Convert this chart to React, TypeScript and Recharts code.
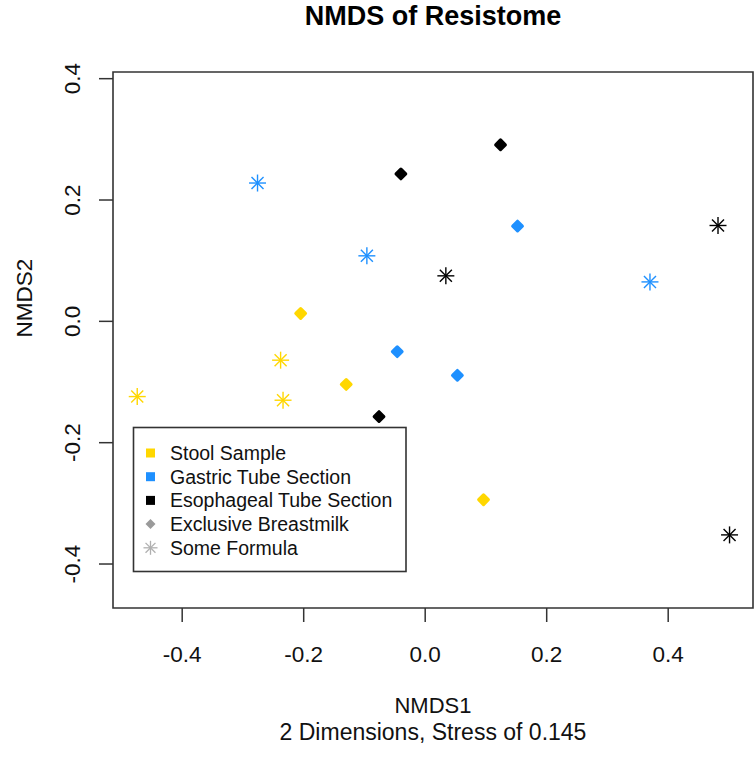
import React from "react";
import {
  ScatterChart,
  Scatter,
  XAxis,
  YAxis,
  ReferenceArea,
  Customized,
} from "recharts";

// NMDS scores, split by sample site and feeding group
const stoolBreastmilk = [
  { x: -0.205, y: 0.013 },
  { x: -0.13, y: -0.104 },
  { x: 0.096, y: -0.294 },
];
const stoolFormula = [
  { x: -0.238, y: -0.064 },
  { x: -0.234, y: -0.13 },
  { x: -0.474, y: -0.124 },
];
const gastricBreastmilk = [
  { x: -0.046, y: -0.05 },
  { x: 0.053, y: -0.089 },
  { x: 0.152, y: 0.157 },
];
const gastricFormula = [
  { x: -0.276, y: 0.228 },
  { x: -0.096, y: 0.108 },
  { x: 0.37, y: 0.065 },
];
const esophagealBreastmilk = [
  { x: -0.04, y: 0.243 },
  { x: 0.124, y: 0.291 },
  { x: -0.076, y: -0.157 },
];
const esophagealFormula = [
  { x: 0.034, y: 0.075 },
  { x: 0.482, y: 0.158 },
  { x: 0.501, y: -0.352 },
];

const xTicks = [-0.4, -0.2, 0.0, 0.2, 0.4];
const yTicks = [-0.4, -0.2, 0.0, 0.2, 0.4];
const xDomain = [-0.5139, 0.5396];
const yDomain = [-0.4725, 0.411];

const legendLabels = [
  "Stool Sample",
  "Gastric Tube Section",
  "Esophageal Tube Section",
  "Exclusive Breastmilk",
  "Some Formula",
];

const GOLD = "#FFD700";
const BLUE = "#1E90FF";
const BLACK = "#000000";
const FONT = "'Liberation Sans', Arial, sans-serif";

function diamondShape(color: string) {
  return (props: any) => {
    const { cx, cy } = props;
    const r = 4.8;
    return (
      <polygon
        points={`${cx},${cy - r} ${cx + r},${cy} ${cx},${cy + r} ${cx - r},${cy}`}
        fill={color}
        stroke={color}
        strokeWidth={3.2}
        strokeLinejoin="round"
      />
    );
  };
}

function Asterisk({ cx, cy, color, r, w }: any) {
  const d = r * 0.7071;
  return (
    <g stroke={color} strokeWidth={w}>
      <line x1={cx - r} y1={cy} x2={cx + r} y2={cy} />
      <line x1={cx} y1={cy - r} x2={cx} y2={cy + r} />
      <line x1={cx - d} y1={cy - d} x2={cx + d} y2={cy + d} />
      <line x1={cx - d} y1={cy + d} x2={cx + d} y2={cy - d} />
    </g>
  );
}

function starShape(color: string) {
  return (props: any) => (
    <Asterisk cx={props.cx} cy={props.cy} color={color} r={8.5} w={1.4} />
  );
}

const XTick = ({ x, y, payload }: any) => (
  <text x={x} y={y + 40} textAnchor="middle" fontSize={22.5} fontFamily={FONT} fill="#111">
    {Number(payload.value).toFixed(1)}
  </text>
);

const YTick = ({ x, y, payload }: any) => (
  <text
    x={x - 19}
    y={y}
    transform={`rotate(-90, ${x - 19}, ${y})`}
    textAnchor="middle"
    fontSize={22.5}
    fontFamily={FONT}
    fill="#111"
  >
    {Number(payload.value).toFixed(1)}
  </text>
);

function Overlay() {
  const legendColors = [GOLD, BLUE, BLACK];
  const lx = 133.5;
  const ly = 427.5;
  const rowY = (i: number) => 453 + i * 23.7;
  return (
    <g fontFamily={FONT}>
      <text x={433} y={25} textAnchor="middle" fontSize={27} fontWeight="bold" fill="#000">
        NMDS of Resistome
      </text>
      <text x={433} y={713} textAnchor="middle" fontSize={22} fill="#111">
        NMDS1
      </text>
      <text x={433} y={740} textAnchor="middle" fontSize={23} fill="#111">
        2 Dimensions, Stress of 0.145
      </text>
      <text
        x={32}
        y={298}
        transform="rotate(-90, 32, 298)"
        textAnchor="middle"
        fontSize={22.5}
        fill="#111"
      >
        NMDS2
      </text>

      <rect x={lx} y={ly} width={272.5} height={144} fill="#fff" stroke="#333" strokeWidth={1.6} />
      {legendLabels.map((label, i) => {
        const cy = rowY(i);
        let symbol: React.ReactNode;
        if (i < 3) {
          symbol = <rect x={146} y={cy - 4.5} width={9} height={9} fill={legendColors[i]} />;
        } else if (i === 3) {
          symbol = (
            <polygon
              points={`150.5,${cy - 5} 155.5,${cy} 150.5,${cy + 5} 145.5,${cy}`}
              fill="#9a9a9a"
            />
          );
        } else {
          symbol = <Asterisk cx={150.5} cy={cy} color="#b0b0b0" r={7} w={1.3} />;
        }
        return (
          <g key={label}>
            {symbol}
            <text x={170} y={cy + 7} fontSize={19.5} fill="#111">
              {label}
            </text>
          </g>
        );
      })}
    </g>
  );
}

export default function App() {
  return (
    <div style={{ position: "absolute", left: 0, top: 0, background: "#fff" }}>
      <ScatterChart
        width={756}
        height={757}
        margin={{ top: 72, right: 3, bottom: 89, left: 53 }}
      >
        <XAxis
          type="number"
          dataKey="x"
          domain={xDomain}
          ticks={xTicks}
          allowDataOverflow
          axisLine={false}
          tickSize={14}
          tickMargin={0}
          height={60}
          tickLine={{ stroke: "#333", strokeWidth: 1.5 }}
          tick={<XTick />}
        />
        <YAxis
          type="number"
          dataKey="y"
          domain={yDomain}
          ticks={yTicks}
          allowDataOverflow
          axisLine={false}
          tickSize={14}
          tickMargin={0}
          width={60}
          tickLine={{ stroke: "#333", strokeWidth: 1.5 }}
          tick={<YTick />}
        />
        <ReferenceArea
          x1={xDomain[0]}
          x2={xDomain[1]}
          y1={yDomain[0]}
          y2={yDomain[1]}
          fill="none"
          stroke="#333"
          strokeWidth={1.6}
        />
        <Scatter data={stoolBreastmilk} shape={diamondShape(GOLD)} isAnimationActive={false} />
        <Scatter data={stoolFormula} shape={starShape(GOLD)} isAnimationActive={false} />
        <Scatter data={gastricBreastmilk} shape={diamondShape(BLUE)} isAnimationActive={false} />
        <Scatter data={gastricFormula} shape={starShape(BLUE)} isAnimationActive={false} />
        <Scatter data={esophagealBreastmilk} shape={diamondShape(BLACK)} isAnimationActive={false} />
        <Scatter data={esophagealFormula} shape={starShape(BLACK)} isAnimationActive={false} />
        <Customized component={Overlay} />
      </ScatterChart>
    </div>
  );
}
